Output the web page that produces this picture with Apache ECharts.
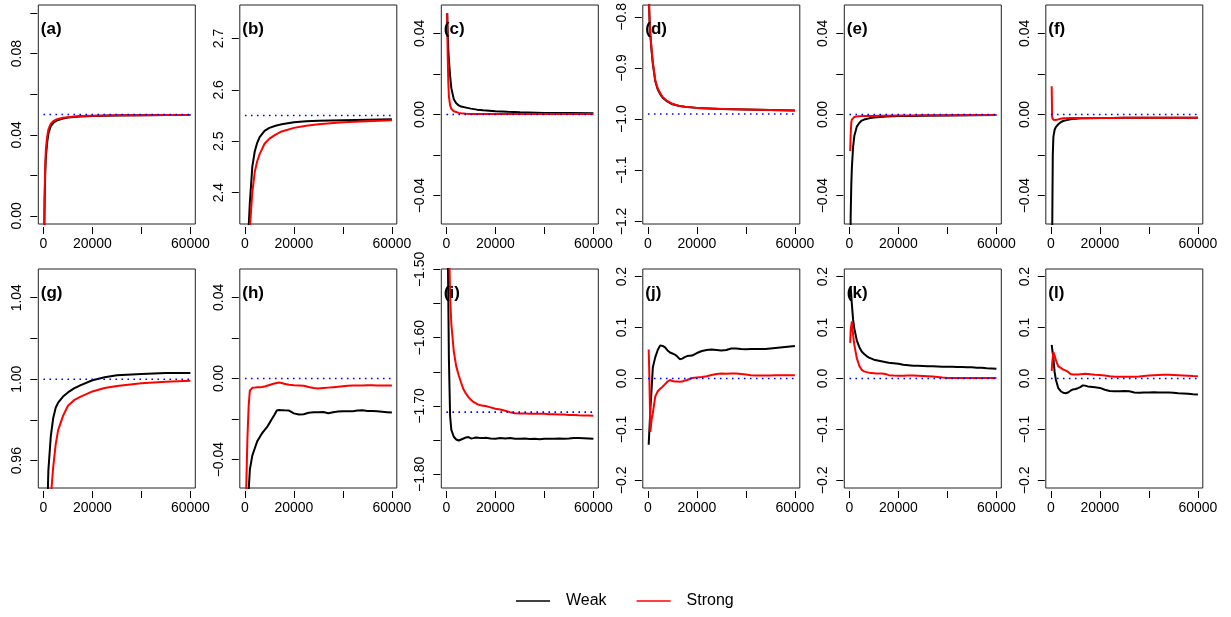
<!DOCTYPE html>
<html>
<head>
<meta charset="utf-8">
<script src="https://cdn.jsdelivr.net/npm/echarts@6/dist/echarts.min.js"></script>
<style>html,body{margin:0;padding:0;background:#fff}#c{width:1231px;height:617px}</style>
</head>
<body>
<div id="c"></div>
<script>
// ---------- data ----------
const X1 = [300, 500, 750, 1000, 1500, 2000, 3000, 4000, 5000, 6000, 8000, 10000, 12500, 15000, 20000, 25000, 30000, 40000, 50000, 60000];
const X2 = [300, 500, 1000, 1500, 2000, 3000, 4000, 5000, 6000, 7000, 8000, 9000, 10000, 11000, 12000, 13000, 14000, 15000, 16000, 18000, 20000, 22000, 24000, 26000, 28000, 30000, 32000, 34000, 36000, 38000, 40000, 42000, 44000, 46000, 48000, 50000, 52000, 54000, 56000, 58000, 60000];

const panelNames = ['(a)', '(b)', '(c)', '(d)', '(e)', '(f)', '(g)', '(h)', '(i)', '(j)', '(k)', '(l)'];
const truth = [0.05, 2.55, 0, -0.99, 0, 0, 1.0, 0, -1.709, 0, 0, 0];
const yMin = [-0.004, 2.339, -0.054, -1.205, -0.054, -0.054, 0.9466, -0.054, -1.82, -0.215, -0.215, -0.215];
const yMax = [0.104, 2.765, 0.054, -0.777, 0.054, 0.054, 1.0541, 0.054, -1.4995, 0.215, 0.215, 0.215];
const yTicks = [
  [0, 0.02, 0.04, 0.06, 0.08, 0.10],
  [2.4, 2.5, 2.6, 2.7],
  [-0.04, -0.02, 0, 0.02, 0.04],
  [-1.2, -1.1, -1.0, -0.9, -0.8],
  [-0.04, -0.02, 0, 0.02, 0.04],
  [-0.04, -0.02, 0, 0.02, 0.04],
  [0.96, 0.98, 1.0, 1.02, 1.04],
  [-0.04, -0.02, 0, 0.02, 0.04],
  [-1.8, -1.75, -1.7, -1.65, -1.6, -1.55, -1.5],
  [-0.2, -0.1, 0, 0.1, 0.2],
  [-0.2, -0.1, 0, 0.1, 0.2],
  [-0.2, -0.1, 0, 0.1, 0.2]
];
const yLabels = [
  [0, 0.04, 0.08],
  [2.4, 2.5, 2.6, 2.7],
  [-0.04, 0, 0.04],
  [-1.2, -1.1, -1.0, -0.9, -0.8],
  [-0.04, 0, 0.04],
  [-0.04, 0, 0.04],
  [0.96, 1.0, 1.04],
  [-0.04, 0, 0.04],
  [-1.8, -1.7, -1.6, -1.5],
  [-0.2, -0.1, 0, 0.1, 0.2],
  [-0.2, -0.1, 0, 0.1, 0.2],
  [-0.2, -0.1, 0, 0.1, 0.2]
];
const yDecimals = [2, 1, 2, 1, 2, 2, 2, 2, 2, 1, 1, 1];
const xTicks = [0, 20000, 40000, 60000];
const xLabels = [0, 20000, 60000];

// panels a-g use X1, h-l use X2
const aWeak   = [-0.01, 0.008, 0.022, 0.029, 0.036, 0.0405, 0.0443, 0.0458, 0.0467, 0.0473, 0.0480, 0.0485, 0.0488, 0.0490, 0.0492, 0.0494, 0.0495, 0.0496, 0.0497, 0.0497];
const aStrong = [-0.005, 0.012, 0.026, 0.033, 0.039, 0.0425, 0.0455, 0.0467, 0.0474, 0.0478, 0.0484, 0.0487, 0.0490, 0.0492, 0.0494, 0.0495, 0.0496, 0.0496, 0.0497, 0.0497];
const bWeak   = [2.0, 2.1, 2.2, 2.26, 2.33, 2.38, 2.45, 2.48, 2.497, 2.508, 2.52, 2.526, 2.530, 2.533, 2.537, 2.539, 2.540, 2.541, 2.542, 2.543];
const bStrong = [1.9, 2.0, 2.1, 2.17, 2.26, 2.33, 2.40, 2.44, 2.461, 2.475, 2.495, 2.505, 2.513, 2.519, 2.526, 2.530, 2.533, 2.537, 2.539, 2.541];
const cWeak   = [0.05, 0.04, 0.032, 0.027, 0.019, 0.013, 0.0075, 0.0055, 0.0045, 0.0039, 0.0034, 0.0029, 0.0024, 0.0021, 0.0016, 0.0013, 0.0011, 0.0008, 0.0007, 0.0006];
const cStrong = [0.05, 0.03, 0.016, 0.009, 0.0045, 0.0028, 0.0016, 0.0012, 0.0008, 0.0006, 0.0004, 0.0003, 0.0003, 0.0003, 0.0003, 0.0003, 0.0003, 0.0002, 0.0002, 0.0002];
const dWeak   = [-0.70, -0.785, -0.817, -0.837, -0.867, -0.892, -0.926, -0.942, -0.951, -0.958, -0.966, -0.971, -0.974, -0.976, -0.978, -0.979, -0.980, -0.981, -0.982, -0.983];
const dStrong = [-0.70, -0.785, -0.815, -0.835, -0.864, -0.889, -0.924, -0.940, -0.949, -0.957, -0.965, -0.970, -0.974, -0.976, -0.978, -0.979, -0.980, -0.981, -0.982, -0.983];
const eWeak   = [-0.08, -0.05, -0.035, -0.026, -0.016, -0.0105, -0.006, -0.0042, -0.0030, -0.0025, -0.0019, -0.0015, -0.0012, -0.0010, -0.0008, -0.0007, -0.0006, -0.0005, -0.0004, -0.0003];
const eStrong = [-0.018, -0.010, -0.004, -0.0025, -0.0016, -0.0012, -0.0010, -0.0009, -0.0008, -0.0008, -0.0007, -0.0007, -0.0006, -0.0006, -0.0005, -0.0005, -0.0004, -0.0004, -0.0003, -0.0003];
const fWeak   = [-0.1, -0.06, -0.02, -0.011, -0.0075, -0.0062, -0.0048, -0.0038, -0.0032, -0.0029, -0.0024, -0.0021, -0.0019, -0.0018, -0.0017, -0.0017, -0.0016, -0.0016, -0.0016, -0.0016];
const fStrong = [0.0139, -0.0015, -0.0022, -0.0026, -0.0028, -0.0027, -0.0024, -0.0021, -0.0019, -0.0018, -0.0017, -0.0017, -0.0017, -0.0017, -0.0017, -0.0017, -0.0016, -0.0016, -0.0016, -0.0016];
const gWeak   = [0.7, 0.75, 0.8, 0.85, 0.93, 0.955, 0.972, 0.981, 0.986, 0.9885, 0.9915, 0.9935, 0.9955, 0.997, 0.9995, 1.001, 1.002, 1.0025, 1.003, 1.0031];
const gStrong = [0.6, 0.7, 0.75, 0.8, 0.85, 0.89, 0.942, 0.957, 0.968, 0.975, 0.982, 0.9870, 0.9897, 0.9913, 0.9940, 0.9957, 0.9967, 0.9980, 0.9987, 0.9992];

const hWeak   = [-0.12, -0.10, -0.075, -0.056, -0.045, -0.038, -0.0345, -0.031, -0.029, -0.027, -0.0255, -0.024, -0.022, -0.020, -0.018, -0.0158, -0.0155, -0.0156, -0.0157, -0.0158, -0.0172, -0.0178, -0.0176, -0.0169, -0.0166, -0.0167, -0.0165, -0.0171, -0.0166, -0.0163, -0.0162, -0.0161, -0.0161, -0.0158, -0.0157, -0.0160, -0.0160, -0.0162, -0.0164, -0.0166, -0.0168];
const hStrong = [-0.08, -0.055, -0.03, -0.014, -0.006, -0.0046, -0.0045, -0.0043, -0.0043, -0.0042, -0.0040, -0.0036, -0.0032, -0.0028, -0.0025, -0.0022, -0.0020, -0.0022, -0.0026, -0.0031, -0.0033, -0.0034, -0.0036, -0.0042, -0.0047, -0.0049, -0.0047, -0.0045, -0.0043, -0.0041, -0.0038, -0.0036, -0.0035, -0.0034, -0.0034, -0.0033, -0.0033, -0.0034, -0.0034, -0.0034, -0.0034];
const iWeak   = [-1.3, -1.45, -1.63, -1.715, -1.735, -1.745, -1.749, -1.7505, -1.749, -1.7475, -1.746, -1.7455, -1.7475, -1.747, -1.746, -1.7465, -1.747, -1.747, -1.7465, -1.7475, -1.7478, -1.747, -1.7475, -1.7468, -1.7478, -1.748, -1.7475, -1.7482, -1.748, -1.7485, -1.748, -1.748, -1.7478, -1.7475, -1.7478, -1.7475, -1.747, -1.747, -1.7472, -1.7475, -1.748];
const iStrong = [-1.1, -1.25, -1.45, -1.54, -1.58, -1.62, -1.642, -1.655, -1.666, -1.676, -1.682, -1.687, -1.691, -1.694, -1.696, -1.698, -1.699, -1.6995, -1.700, -1.702, -1.704, -1.705, -1.707, -1.709, -1.7105, -1.711, -1.711, -1.7112, -1.7112, -1.7115, -1.7115, -1.712, -1.712, -1.7125, -1.7125, -1.713, -1.713, -1.7135, -1.7138, -1.714, -1.7142];
const jWeak   = [-0.13, -0.11, -0.06, -0.02, 0.022, 0.042, 0.056, 0.065, 0.064, 0.061, 0.055, 0.051, 0.049, 0.047, 0.043, 0.038, 0.039, 0.042, 0.044, 0.045, 0.050, 0.054, 0.056, 0.057, 0.056, 0.055, 0.056, 0.059, 0.059, 0.058, 0.0575, 0.058, 0.058, 0.058, 0.058, 0.059, 0.060, 0.061, 0.062, 0.063, 0.064];
const jStrong = [0.057, 0.02, -0.105, -0.08, -0.068, -0.035, -0.025, -0.020, -0.016, -0.011, -0.006, -0.003, -0.005, -0.006, -0.006, -0.0065, -0.006, -0.004, -0.003, 0.001, 0.002, 0.003, 0.0045, 0.007, 0.009, 0.010, 0.0095, 0.0098, 0.010, 0.009, 0.008, 0.0065, 0.0058, 0.0058, 0.006, 0.006, 0.0062, 0.0063, 0.0064, 0.0065, 0.0065];
const kWeak   = [0.16, 0.18, 0.145, 0.115, 0.098, 0.075, 0.062, 0.053, 0.048, 0.044, 0.041, 0.039, 0.037, 0.036, 0.035, 0.034, 0.033, 0.032, 0.031, 0.030, 0.029, 0.027, 0.026, 0.025, 0.025, 0.0245, 0.024, 0.024, 0.0235, 0.023, 0.023, 0.023, 0.0225, 0.0225, 0.022, 0.022, 0.021, 0.021, 0.020, 0.0195, 0.019];
const kStrong = [0.07, 0.095, 0.112, 0.085, 0.066, 0.04, 0.025, 0.017, 0.014, 0.0125, 0.0115, 0.011, 0.0105, 0.010, 0.0098, 0.0098, 0.0095, 0.0085, 0.0065, 0.0058, 0.0055, 0.0055, 0.006, 0.006, 0.0055, 0.005, 0.0045, 0.004, 0.003, 0.002, 0.0012, 0.0008, 0.0008, 0.001, 0.001, 0.001, 0.001, 0.001, 0.001, 0.001, 0.001];
const lWeak   = [0.066, 0.063, 0.04, 0.013, -0.002, -0.019, -0.025, -0.028, -0.029, -0.0275, -0.024, -0.0215, -0.0205, -0.019, -0.017, -0.0135, -0.014, -0.0155, -0.016, -0.017, -0.0185, -0.022, -0.0245, -0.025, -0.025, -0.0245, -0.025, -0.0275, -0.028, -0.0275, -0.0275, -0.027, -0.0275, -0.0275, -0.0275, -0.028, -0.029, -0.0295, -0.030, -0.031, -0.0315];
const lStrong = [0.015, 0.03, 0.052, 0.045, 0.036, 0.024, 0.021, 0.0175, 0.016, 0.013, 0.009, 0.008, 0.008, 0.008, 0.0085, 0.009, 0.0095, 0.009, 0.0085, 0.0075, 0.0068, 0.006, 0.0045, 0.0035, 0.0033, 0.0033, 0.0033, 0.0035, 0.004, 0.005, 0.006, 0.0065, 0.007, 0.0072, 0.0072, 0.007, 0.0065, 0.006, 0.0055, 0.005, 0.0046];

const weakSets   = [aWeak, bWeak, cWeak, dWeak, eWeak, fWeak, gWeak, hWeak, iWeak, jWeak, kWeak, lWeak];
const strongSets = [aStrong, bStrong, cStrong, dStrong, eStrong, fStrong, gStrong, hStrong, iStrong, jStrong, kStrong, lStrong];
const xSets = [X1, X1, X1, X1, X1, X1, X1, X2, X2, X2, X2, X2];

// ---------- layout ----------
const FONT = 'Liberation Sans, Arial, Helvetica, sans-serif';
const gridLeft0 = 38.3, gridStep = 201.5, gridW = 157, gridH = 219;
const rowTop = [5, 269];
const X_MIN = -2100, X_MAX = 62000;

const grids = [], xAxes = [], yAxes = [], series = [], titles = [];
const fmt = (v, d) => { let s = Math.abs(v) < 1e-12 ? (0).toFixed(d) : v.toFixed(d); return s.replace('-', '\u2212'); };

for (let i = 0; i < 12; i++) {
  const col = i % 6, row = Math.floor(i / 6);
  const left = gridLeft0 + col * gridStep, top = rowTop[row];
  grids.push({ left: left, top: top, width: gridW, height: gridH, show: true, borderColor: '#222', borderWidth: 1, backgroundColor: 'transparent', containLabel: false });
  const dec = yDecimals[i];
  xAxes.push({
    type: 'value', gridIndex: i, min: X_MIN, max: X_MAX, offset: 3, position: 'bottom',
    axisLine: { show: false, onZero: false }, splitLine: { show: false },
    axisTick: { show: true, inside: false, length: 7, customValues: xTicks, lineStyle: { color: '#000', width: 1 } },
    axisLabel: { customValues: xLabels, margin: 10, fontSize: 14, color: '#000', fontFamily: FONT, formatter: v => String(v) }
  });
  yAxes.push({
    type: 'value', gridIndex: i, min: yMin[i], max: yMax[i], offset: 1, position: 'left',
    axisLine: { show: false, onZero: false }, splitLine: { show: false },
    axisTick: { show: true, inside: false, length: 7, customValues: yTicks[i], lineStyle: { color: '#000', width: 1 } },
    axisLabel: { customValues: yLabels[i], rotate: 90, margin: 13, fontSize: 14, color: '#000', fontFamily: FONT, formatter: v => fmt(v, dec) }
  });
  const xs = xSets[i];
  series.push({
    name: 'Weak', type: 'line', xAxisIndex: i, yAxisIndex: i, showSymbol: false, symbol: 'none',
    data: xs.map((x, j) => [x, weakSets[i][j]]), lineStyle: { color: '#000', width: 2 }, itemStyle: { color: '#000' }, z: 2, animation: false
  });
  series.push({
    name: 'Strong', type: 'line', xAxisIndex: i, yAxisIndex: i, showSymbol: false, symbol: 'none',
    data: xs.map((x, j) => [x, strongSets[i][j]]), lineStyle: { color: '#ff0000', width: 2 }, itemStyle: { color: '#ff0000' }, z: 3, animation: false
  });
  series.push({
    name: 'truth', type: 'line', xAxisIndex: i, yAxisIndex: i, showSymbol: false, symbol: 'none',
    data: [[0, truth[i]], [60000, truth[i]]], lineStyle: { color: '#0000ff', width: 1.6, type: [1.6, 4.4] }, itemStyle: { color: '#0000ff' }, z: 4, animation: false
  });
  titles.push({ text: panelNames[i], left: left + 2.5, top: top + 15.5, padding: 0, textStyle: { fontSize: 17, fontWeight: 'bold', color: '#000', fontFamily: FONT } });
}

const chart = echarts.init(document.getElementById('c'), null, { renderer: 'canvas' });
chart.setOption({
  animation: false,
  backgroundColor: '#fff',
  title: titles,
  grid: grids,
  xAxis: xAxes,
  yAxis: yAxes,
  legend: {
    data: ['Weak', 'Strong'], left: 511, top: 588, icon: 'rect', itemWidth: 34, itemHeight: 1.5, itemGap: 30,
    textStyle: { fontSize: 16, color: '#000', fontFamily: FONT, padding: [0, 0, 0, 11] }
  },
  series: series
});
</script>
</body>
</html>
